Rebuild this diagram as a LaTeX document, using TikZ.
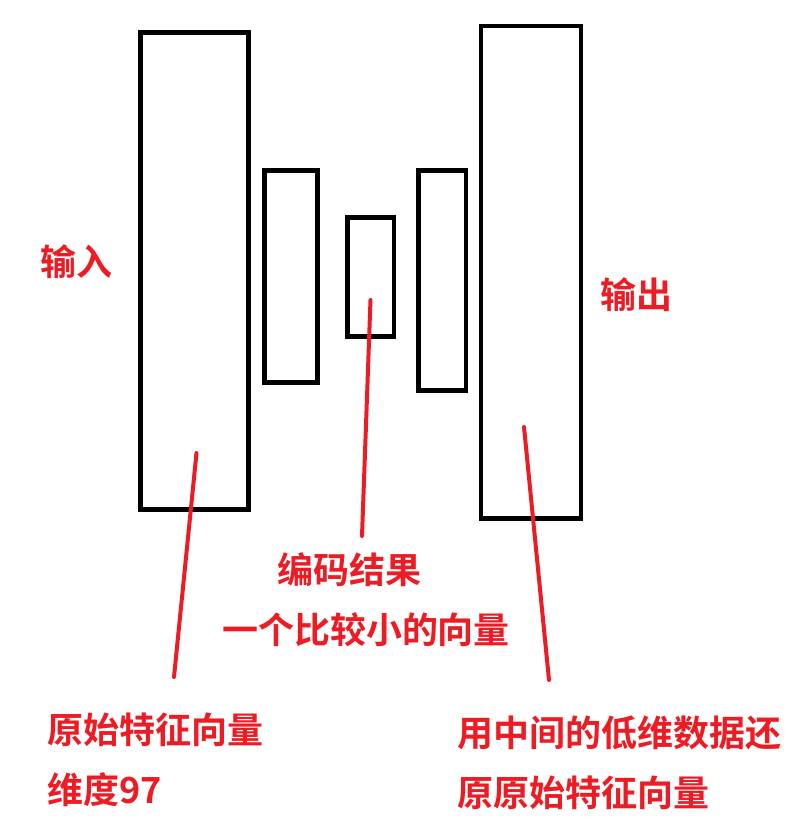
\documentclass[tikz,border=0pt]{standalone}
\usepackage{fontspec}
\newfontfamily\cjkfont{Noto Sans CJK SC}[BoldFont={* Bold}]
\definecolor{paintred}{HTML}{ED1C24}
\tikzset{
  layerbox/.style={draw=black, line width=4.5pt, fill=none},
  redline/.style={draw=paintred, line width=4pt, line cap=round},
  lbl/.style={text=paintred, font=\cjkfont\bfseries\fontsize{36pt}{38pt}\selectfont, inner sep=0pt},
}
\begin{document}
\begin{tikzpicture}[x=1pt,y=-1pt]
\useasboundingbox (0,0) rectangle (791,831);
% layers
\draw[layerbox] (140.5,32.5) rectangle (248.5,509.5);
\draw[layerbox] (264.5,170.5) rectangle (317.5,382.5);
\draw[layerbox] (347.5,217.5) rectangle (394,336.5);
\draw[layerbox] (418.5,170.5) rectangle (466,390.5);
\draw[layerbox] (481,26) rectangle (581,518.5);
% labels
\node[lbl, anchor=center] (in) at (76,262) {输入};
\node[lbl, anchor=center] (out) at (636,295) {输出};
\node[lbl, anchor=center] (code1) at (349,570) {编码结果};
\node[lbl, anchor=center] (code2) at (366,630) {一个比较小的向量};
\node[lbl, anchor=west] (orig1) at (47,730) {原始特征向量};
\node[lbl, anchor=west] (orig2) at (47,790) {维度97};
\node[lbl, anchor=west] (rec1) at (457,733) {用中间的低维数据还};
\node[lbl, anchor=west] (rec2) at (457,793) {原原始特征向量};
% pointer lines
\coordinate (p1a) at (196.5,453);
\coordinate (p1b) at (174,677);
\coordinate (p2a) at (370.5,300);
\coordinate (p2b) at (362,536);
\coordinate (p3a) at (524,427);
\coordinate (p3b) at (549,680);
\draw[redline] (p1a) -- (p1b);
\draw[redline] (p2a) -- (p2b);
\draw[redline] (p3a) -- (p3b);
\end{tikzpicture}
\end{document}
